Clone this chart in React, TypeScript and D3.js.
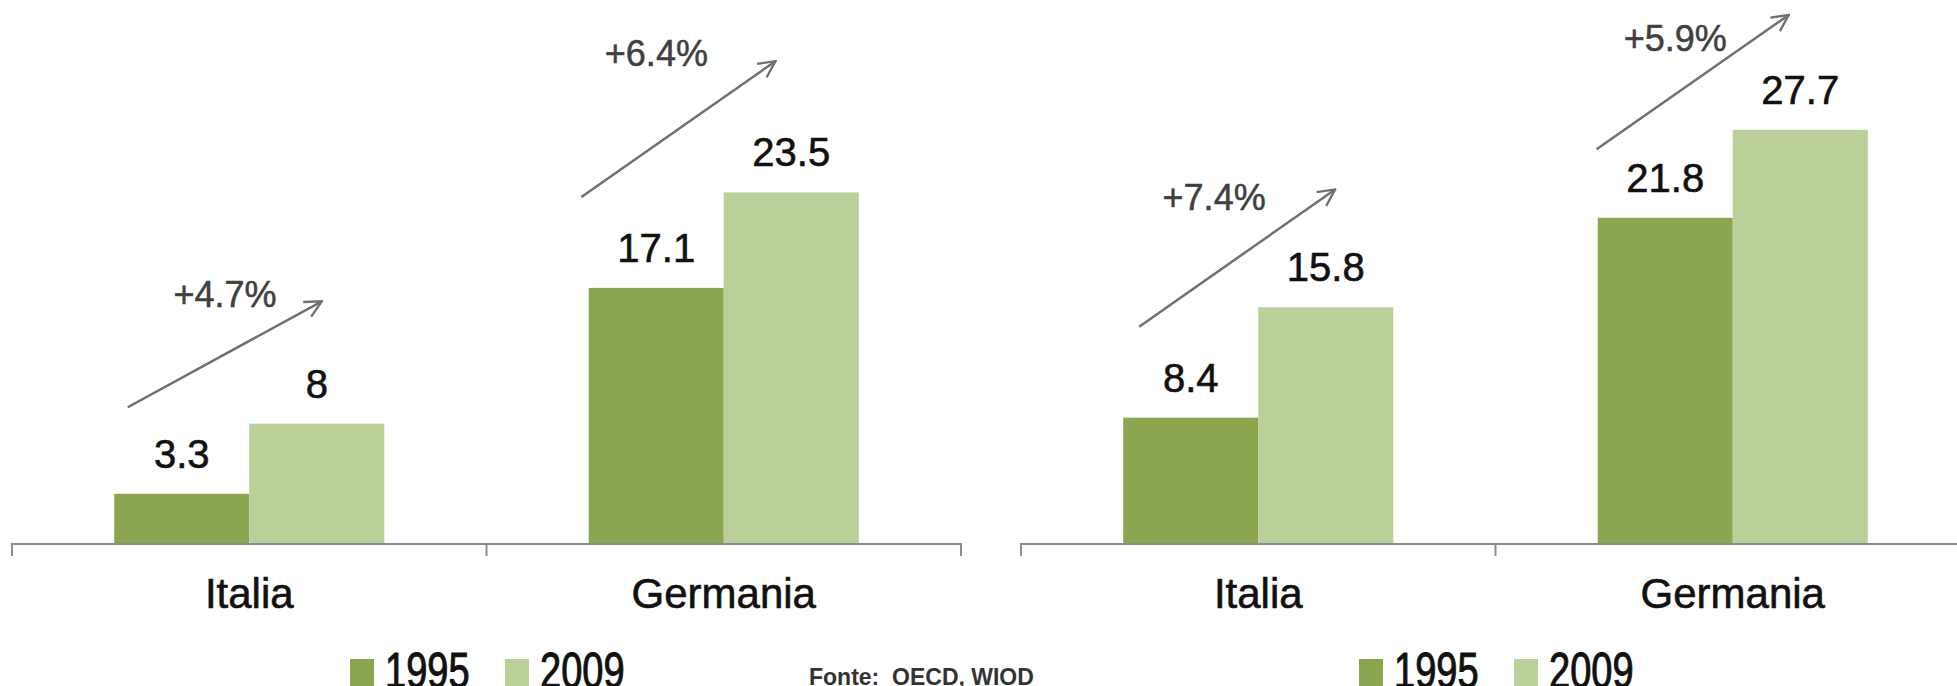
import React from 'react';
import * as d3 from 'd3';

// categories and series
const categories = ['Italia', 'Germania'];
const years = ['1995', '2009'];

// left panel values
const leftValues1995 = [3.3, 17.1];
const leftValues2009 = [8, 23.5];
const leftGrowth = ['+4.7%', '+6.4%'];

// right panel values
const rightValues1995 = [8.4, 21.8];
const rightValues2009 = [15.8, 27.7];
const rightGrowth = ['+7.4%', '+5.9%'];

// arrow annotations: [band fraction, value] for start / end, and label anchor
const leftArrowFrom = [[0.244, 9.1], [0.2, 23.2]];
const leftArrowTo = [[0.653, 16.2], [0.609, 32.3]];
const leftLabelAt = [[0.449, 15.8], [0.358, 32.0]];
const rightArrowFrom = [[0.249, 14.5], [0.213, 26.4]];
const rightArrowTo = [[0.662, 23.7], [0.618, 35.4]];
const rightLabelAt = [[0.407, 22.3], [0.379, 33.0]];

const source = 'Fonte:  OECD, WIOD';

const W = 1957;
const H = 686;
const panelWidth = 949;
const baseline = 543;
const colors = ['#8ba64f', '#bbcf99'];
const font = '"Liberation Sans", Arial, sans-serif';

const y = d3.scaleLinear().domain([0, 36.4]).range([baseline, 0]);

const x0 = d3.scaleBand<string>().domain(categories).range([0, panelWidth]).padding(0);
const x1 = d3.scaleBand<string>().domain(years).range([0, x0.bandwidth()]).paddingInner(0).paddingOuter(0.757);

type PanelProps = {
  left: number;
  v1995: number[];
  v2009: number[];
  growth: string[];
  arrowFrom: number[][];
  arrowTo: number[][];
  labelAt: number[][];
};

const Panel = ({ left, v1995, v2009, growth, arrowFrom, arrowTo, labelAt }: PanelProps) => {
  const series = [v1995, v2009];
  const bw = x0.bandwidth();
  return (
    <g transform={`translate(${left},0)`}>
      {/* bars */}
      {categories.map((c, i) => (
        <g key={c} transform={`translate(${x0(c)},0)`}>
          {years.map((yr, s) => (
            <rect
              key={yr}
              x={x1(yr)}
              y={y(series[s][i])}
              width={x1.bandwidth()}
              height={baseline - y(series[s][i])}
              fill={colors[s]}
            />
          ))}
          {years.map((yr, s) => (
            <text
              key={'t' + yr}
              x={(x1(yr) as number) + x1.bandwidth() / 2}
              y={y(series[s][i]) - 26}
              textAnchor="middle"
              fontFamily={font}
              fontSize={40}
              fill="#111"
              stroke="#111"
              strokeWidth={0.6}
            >
              {String(series[s][i])}
            </text>
          ))}
          {/* growth arrow */}
          <line
            x1={arrowFrom[i][0] * bw}
            y1={y(arrowFrom[i][1])}
            x2={arrowTo[i][0] * bw}
            y2={y(arrowTo[i][1])}
            stroke="#707070"
            strokeWidth={2.5}
            markerEnd="url(#arrowHead)"
          />
          <text
            x={labelAt[i][0] * bw}
            y={y(labelAt[i][1])}
            textAnchor="middle"
            fontFamily={font}
            fontSize={36}
            fill="#404040"
            stroke="#404040"
            strokeWidth={0.5}
          >
            {growth[i]}
          </text>
          {/* category label */}
          <text
            x={bw / 2}
            y={608}
            textAnchor="middle"
            fontFamily={font}
            fontSize={42}
            fill="#111"
            stroke="#111"
            strokeWidth={0.6}
          >
            {c}
          </text>
        </g>
      ))}
      {/* axis */}
      <line x1={0} x2={panelWidth} y1={baseline + 1} y2={baseline + 1} stroke="#8c8c8c" strokeWidth={2} />
      {[0, bw, panelWidth].map((t, i) => (
        <line key={i} x1={t} x2={t} y1={baseline} y2={baseline + 13} stroke="#8c8c8c" strokeWidth={2} />
      ))}
      {/* legend */}
      {years.map((yr, s) => (
        <g key={yr} transform={`translate(${338 + s * 155},0)`}>
          <rect x={0} y={659} width={24} height={30} fill={colors[s]} />
          <text
            transform={`translate(35,688) scale(1,1.3)`}
            fontFamily={font}
            fontSize={38}
            fill="#111"
            stroke="#111"
            strokeWidth={0.8}
          >
            {yr}
          </text>
        </g>
      ))}
    </g>
  );
};

export default function App() {
  return (
    <svg
      width={W}
      height={H}
      style={{ position: 'absolute', left: 0, top: 0, display: 'block', background: '#fff' }}
    >
      <defs>
        <marker
          id="arrowHead"
          viewBox="0 0 12 12"
          refX={11}
          refY={6}
          markerWidth={20}
          markerHeight={20}
          markerUnits="userSpaceOnUse"
          orient="auto"
        >
          <path d="M1,1 L11,6 L1,11" fill="none" stroke="#707070" strokeWidth={1.4} />
        </marker>
      </defs>
      <rect width={W} height={H} fill="#fff" />
      <Panel
        left={12}
        v1995={leftValues1995}
        v2009={leftValues2009}
        growth={leftGrowth}
        arrowFrom={leftArrowFrom}
        arrowTo={leftArrowTo}
        labelAt={leftLabelAt}
      />
      <Panel
        left={1021}
        v1995={rightValues1995}
        v2009={rightValues2009}
        growth={rightGrowth}
        arrowFrom={rightArrowFrom}
        arrowTo={rightArrowTo}
        labelAt={rightLabelAt}
      />
      <text
        x={809}
        y={685}
        fontFamily={font}
        fontWeight="bold"
        fontSize={23}
        fill="#333"
        style={{ whiteSpace: 'pre' }}
      >
        {source}
      </text>
    </svg>
  );
}
